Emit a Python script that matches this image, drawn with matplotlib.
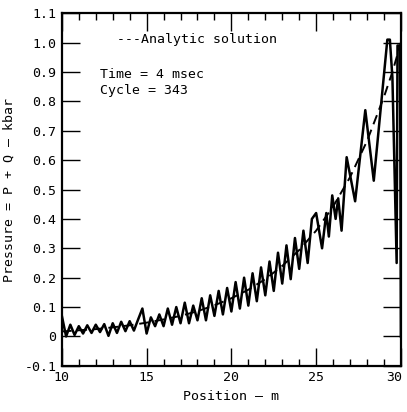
import matplotlib

matplotlib.use("Agg")
import matplotlib.pyplot as plt  # noqa: E402
import matplotlib.transforms as mtransforms  # noqa: E402
from matplotlib.ticker import MultipleLocator  # noqa: E402

# computed pressure (P + Q) along the bar, kbar
position = [
    10.00, 10.25, 10.50, 10.75, 11.00, 11.25, 11.50, 11.75, 12.00, 12.25,
    12.50, 12.75, 13.00, 13.25, 13.50, 13.75, 14.00, 14.25, 14.50, 14.75,
    15.00, 15.25, 15.50, 15.75, 16.00, 16.25, 16.50, 16.75, 17.00, 17.25,
    17.50, 17.75, 18.00, 18.25, 18.50, 18.75, 19.00, 19.25, 19.50, 19.75,
    20.00, 20.25, 20.50, 20.75, 21.00, 21.25, 21.50, 21.75, 22.00, 22.25,
    22.50, 22.75, 23.00, 23.25, 23.50, 23.75, 24.00, 24.25, 24.50, 24.75,
    25.00, 25.35, 25.60, 25.75, 25.95, 26.15, 26.30, 26.50, 26.80, 27.30,
    27.90, 28.40, 29.20, 29.35, 29.50, 29.75, 29.80, 29.95, 30.00,
]
pressure = [
    0.070, 0.000, 0.040, 0.005, 0.035, 0.010, 0.038, 0.012, 0.040, 0.015,
    0.042, 0.002, 0.045, 0.012, 0.050, 0.018, 0.052, 0.020, 0.058, 0.095,
    0.010, 0.065, 0.035, 0.075, 0.035, 0.095, 0.040, 0.100, 0.045, 0.115,
    0.045, 0.105, 0.055, 0.130, 0.055, 0.140, 0.070, 0.155, 0.075, 0.165,
    0.085, 0.185, 0.095, 0.200, 0.105, 0.215, 0.120, 0.235, 0.140, 0.255,
    0.155, 0.285, 0.180, 0.310, 0.195, 0.335, 0.230, 0.360, 0.250, 0.400,
    0.420, 0.300, 0.420, 0.340, 0.480, 0.400, 0.470, 0.360, 0.610, 0.460,
    0.770, 0.530, 1.010, 1.010, 0.880, 0.250, 0.990, 0.990, 0.000,
]

# analytic solution
analytic_x = [
    10.0, 11.0, 12.0, 13.0, 14.0, 15.0, 16.0, 17.0, 18.0, 19.0, 20.0,
    21.0, 22.0, 23.0, 24.0, 25.0, 26.0, 27.0, 28.0, 29.0, 29.5, 30.0,
]
analytic_p = [
    0.017, 0.021, 0.025, 0.031, 0.038, 0.047, 0.058, 0.070, 0.086, 0.106,
    0.130, 0.159, 0.195, 0.240, 0.294, 0.360, 0.442, 0.542, 0.665, 0.815,
    0.900, 1.000,
]

y_ticks = [-0.1, 0.0, 0.1, 0.2, 0.3, 0.4, 0.5, 0.6, 0.7, 0.8, 0.9, 1.0, 1.1]
y_labels = ["-0.1", "0", "0.1", "0.2", "0.3", "0.4", "0.5", "0.6", "0.7",
            "0.8", "0.9", "1.0", "1.1"]
x_ticks = [10, 15, 20, 25, 30]
x_labels = ["10", "15", "20", "25", "30"]

plt.rcParams["font.family"] = ["DejaVu Sans Mono"]
plt.rcParams["font.size"] = 9.5

fig = plt.figure(figsize=(4.07, 4.12), dpi=100)
ax = fig.add_axes([0.152, 0.112, 0.833, 0.856])

ax.plot(analytic_x, analytic_p, color="black", linewidth=1.4,
        linestyle=(0, (5, 3)))
ax.plot(position, pressure, color="black", linewidth=1.8)

ax.set_xlim(10, 30)
ax.set_ylim(-0.1, 1.1)
ax.set_xticks(x_ticks)
ax.set_xticklabels(x_labels)
ax.set_yticks(y_ticks)
ax.set_yticklabels(y_labels)
ax.xaxis.set_minor_locator(MultipleLocator(1))
ax.tick_params(which="both", direction="in", top=True, right=True,
               width=1.0, color="black")
ax.tick_params(which="major", length=13, pad=4)
ax.tick_params(which="minor", length=5)
for s in ax.spines.values():
    s.set_linewidth(1.6)

# last x label sits at the figure edge; nudge it left so it stays inside
last = ax.get_xticklabels()[-1]
last.set_transform(last.get_transform()
                   + mtransforms.ScaledTranslation(-5 / 72, 0, fig.dpi_scale_trans))

ax.set_xlabel("Position \u2014 m", labelpad=4)
ax.set_ylabel("Pressure = P + Q \u2014 kbar", labelpad=6)

ax.text(0.163, 0.915, "---Analytic solution", transform=ax.transAxes)
ax.text(0.112, 0.815, "Time = 4 msec", transform=ax.transAxes)
ax.text(0.112, 0.77, "Cycle = 343", transform=ax.transAxes)

fig.savefig("out.png", dpi=100)
